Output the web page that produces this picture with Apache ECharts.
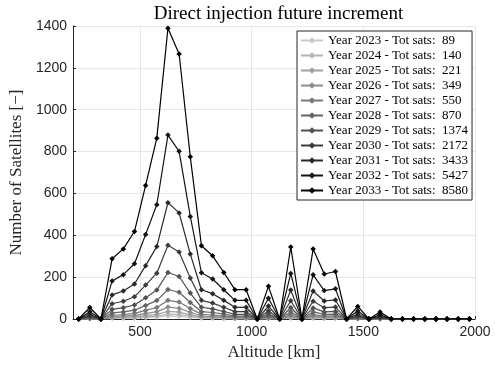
<!DOCTYPE html>
<html><head><meta charset="utf-8">
<script src="https://cdn.jsdelivr.net/npm/echarts@6/dist/echarts.min.js"></script>
<style>html,body{margin:0;padding:0;background:#fff}#c{width:495px;height:368px}</style>
</head><body><div id="c"></div>
<script>
const altitudes = [225,275,325,375,425,475,525,575,625,675,725,775,825,875,925,975,1025,1075,1125,1175,1225,1275,1325,1375,1425,1475,1525,1575,1625,1675,1725,1775,1825,1875,1925,1975];
const years = [2023,2024,2025,2026,2027,2028,2029,2030,2031,2032,2033];
const totals = [89,140,221,349,550,870,1374,2172,3433,5427,8580];
const y2023 = [0,1,0,3,3,4,7,9,14,13,8,4,3,2,1,1,0,2,0,4,0,3,2,2,0,1,0,0,0,0,0,0,0,0,0,0];
const y2024 = [0,1,0,5,5,7,10,14,23,21,13,6,5,4,2,2,0,3,0,6,0,5,4,4,0,1,0,1,0,0,0,0,0,0,0,0];
const y2025 = [0,1,0,7,9,11,16,22,36,33,20,9,8,6,4,4,0,4,0,9,0,9,6,6,0,2,0,1,0,0,0,0,0,0,0,0];
const y2026 = [0,2,0,12,14,17,26,35,57,51,32,14,12,9,6,6,0,6,0,14,0,14,9,9,0,2,0,1,0,0,0,0,0,0,0,0];
const y2027 = [0,4,0,18,21,27,41,55,89,81,50,22,19,14,9,9,0,10,0,22,0,21,14,15,0,4,0,2,0,0,0,0,0,0,0,0];
const y2028 = [0,6,0,29,34,42,65,88,141,128,79,35,31,23,14,14,0,16,0,35,0,34,22,23,0,6,0,3,0,0,0,0,0,0,0,0];
const y2029 = [0,9,0,46,54,67,102,138,222,203,124,56,48,36,22,22,0,25,0,55,0,53,34,36,0,10,0,5,0,0,0,0,0,0,0,0];
const y2030 = [0,14,0,73,85,106,162,219,352,320,196,89,76,56,35,35,0,39,0,87,0,85,54,57,0,15,0,8,0,0,0,0,0,0,0,0];
const y2031 = [0,22,0,115,134,167,255,346,556,507,310,140,121,89,56,56,0,62,0,138,0,134,86,91,0,24,0,13,0,0,0,0,0,0,0,0];
const y2032 = [0,35,0,182,212,264,404,546,879,801,490,221,191,140,89,89,0,99,0,218,0,211,136,144,0,38,0,21,0,0,0,0,0,0,0,0];
const y2033 = [0,55,0,288,335,418,638,864,1389,1266,775,350,302,222,140,140,0,156,0,344,0,334,215,227,0,60,0,33,0,0,0,0,0,0,0,0];
const yTicks = [0,200,400,600,800,1000,1200,1400];
const seriesValues = [y2023,y2024,y2025,y2026,y2027,y2028,y2029,y2030,y2031,y2032,y2033];

const serif = '"Liberation Serif","DejaVu Serif",serif';
const sans = '"Liberation Sans","DejaVu Sans",sans-serif';
const names = years.map((y,i)=>'Year ' + y + ' - Tot sats:  ' + totals[i]);
const series = seriesValues.map((vals,i)=>{
  const g = Math.round(200 - 20*i);
  const col = 'rgb(' + g + ',' + g + ',' + g + ')';
  return {
    name: names[i], type:'line', data: vals.map((v,k)=>[altitudes[k], v]),
    symbol:'diamond', symbolSize:5.5, showSymbol:true,
    lineStyle:{color:col, width:1.2}, itemStyle:{color:col},
    emphasis:{disabled:true}, animation:false, z: 2 + i
  };
});
const chart = echarts.init(document.getElementById('c'));
chart.setOption({
  animation:false,
  title:{text:'Direct injection future increment', left:273.5, top:0, textAlign:'center',
    textStyle:{fontFamily:serif, fontSize:19, fontWeight:'normal', color:'#000'}},
  grid:{left:72.7, right:20, top:26, bottom:49},
  legend:{orient:'vertical', left:297, top:31, itemWidth:22, itemHeight:8, itemGap:0,
    padding:[2,4,2,3], backgroundColor:'#fff', borderColor:'#262626', borderWidth:1,
    textStyle:{fontFamily:serif, fontSize:13, color:'#000', lineHeight:15},
    data:names},
  xAxis:{type:'value', min:200, max:2000, splitNumber:4,
    name:'Altitude [km]', nameLocation:'middle', nameGap:24,
    nameTextStyle:{fontFamily:serif, fontSize:17, color:'#262626'},
    axisLine:{show:true, onZero:false, lineStyle:{color:'#262626'}},
    axisTick:{show:true, inside:true, length:3, lineStyle:{color:'#262626'}},
    axisLabel:{showMinLabel:false, fontFamily:sans, fontSize:14, color:'#262626', margin:6,
      formatter:(v)=>String(v)},
    splitLine:{show:true, lineStyle:{color:'#e6e6e6'}}},
  yAxis:{type:'value', min:yTicks[0], max:yTicks[yTicks.length-1], interval:200,
    name:'Number of Satellites [\u2212]', nameLocation:'middle', nameGap:38,
    nameTextStyle:{fontFamily:serif, fontSize:17, color:'#262626'},
    axisLine:{show:true, lineStyle:{color:'#262626'}},
    axisTick:{show:true, inside:true, length:3, lineStyle:{color:'#262626'}},
    axisLabel:{fontFamily:sans, fontSize:14, color:'#262626', margin:6,
      formatter:(v)=>String(v)},
    splitLine:{show:true, lineStyle:{color:'#e6e6e6'}}},
  series: series
});
</script></body></html>
